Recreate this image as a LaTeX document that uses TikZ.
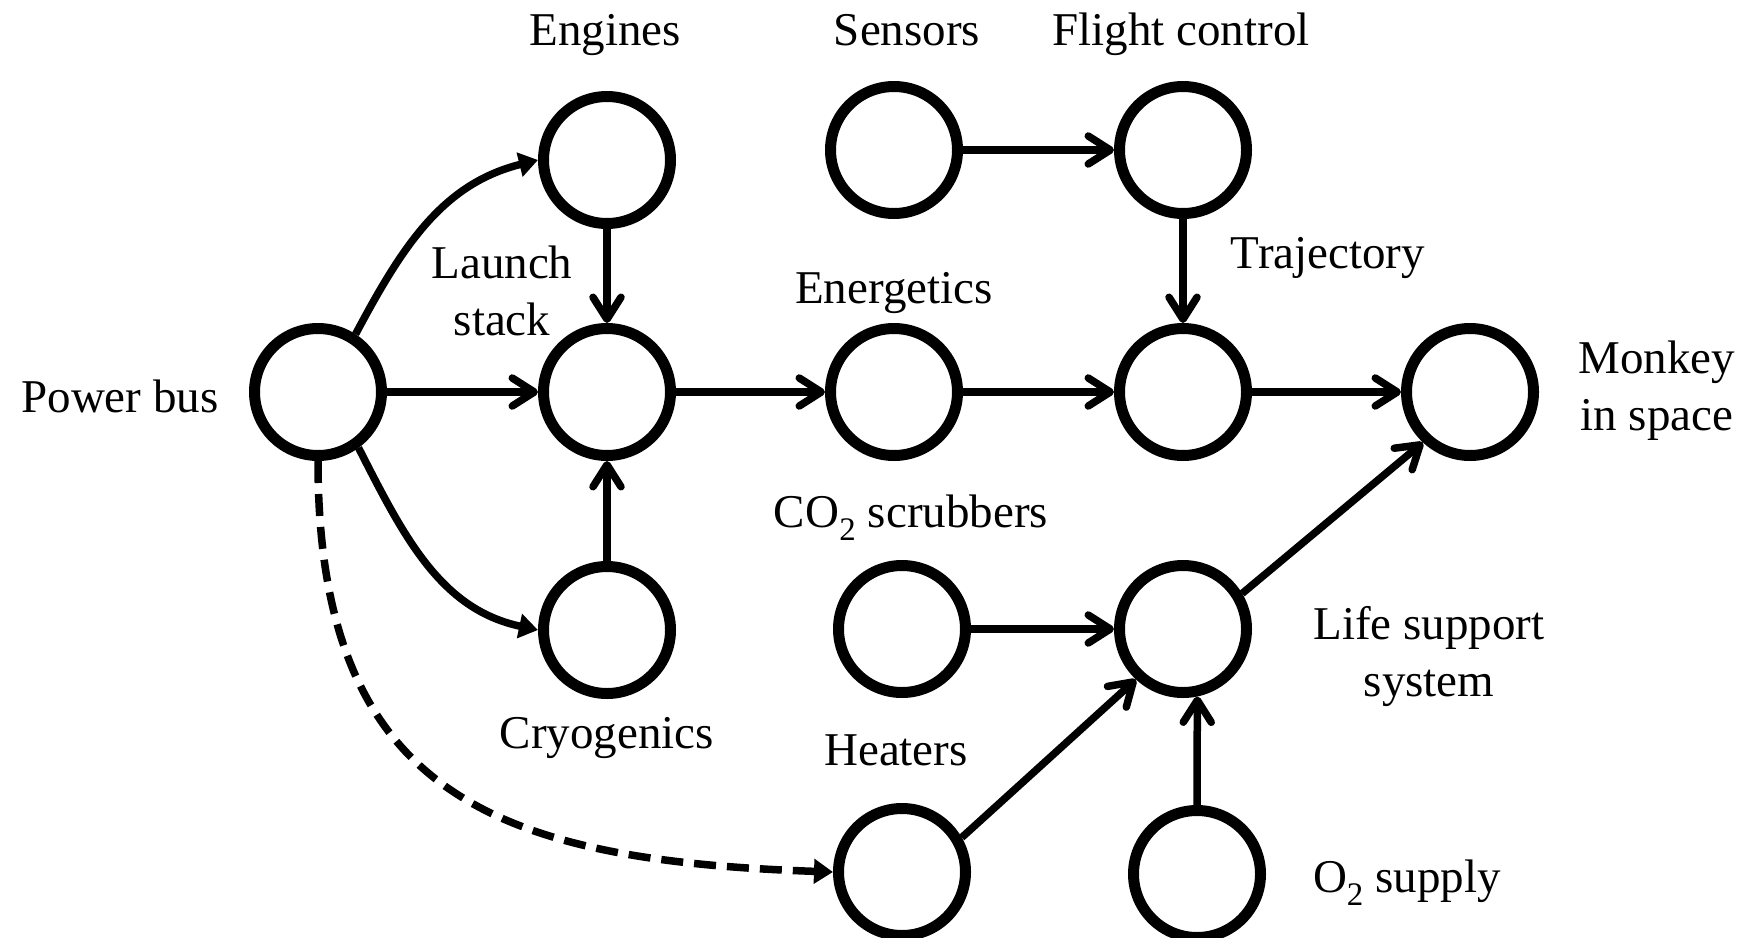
\documentclass[tikz,border=0pt]{standalone}
\usepackage{fontspec}
\setmainfont{Liberation Serif}
\usetikzlibrary{arrows.meta}

\begin{document}
\begin{tikzpicture}[x=1pt,y=-1pt,every node/.style={font=\fontsize{47}{57}\selectfont},
    subsys/.style={shape=circle,draw,line width=11pt,minimum size=127pt,inner sep=0pt},
    tag/.style={inner sep=0pt,align=center},
    link/.style={line width=7.5pt,-{Straight Barb[length=22pt,width=28pt,round]}},
    feed/.style={line width=7.5pt,-{Triangle[length=19pt,width=24pt]}}]
    \useasboundingbox (0,0) rectangle (1745,937);
    % subsystems
    \node[subsys] (pb) at (318,392) {};
    \node[subsys] (eng) at (607,160) {};
    \node[subsys] (ls) at (607,392) {};
    \node[subsys] (cryo) at (607,630) {};
    \node[subsys] (sens) at (894,150) {};
    \node[subsys] (fc) at (1183,150) {};
    \node[subsys] (energ) at (894,392) {};
    \node[subsys] (traj) at (1183,392) {};
    \node[subsys] (monkey) at (1470,392) {};
    \node[subsys] (co) at (902,629) {};
    \node[subsys] (lss) at (1183,629) {};
    \node[subsys] (heat) at (902,872) {};
    \node[subsys] (oxy) at (1197,874) {};
    % names
    \node[tag,anchor=base] (pbtxt) at (120,412) {Power bus};
    \node[tag,anchor=base] (engtxt) at (605,45) {Engines};
    \node[tag] (lstxt) at (502,291) {Launch\\stack};
    \node[tag,anchor=base] (cryotxt) at (607,748) {Cryogenics};
    \node[tag,anchor=base] (senstxt) at (907,45) {Sensors};
    \node[tag,anchor=base] (fctxt) at (1181,45) {Flight control};
    \node[tag,anchor=base] (energtxt) at (894,303) {Energetics};
    \node[tag,anchor=base] (trajtxt) at (1328,268) {Trajectory};
    \node[tag] (monkeytxt) at (1657,391) {Monkey\\in space};
    \node[tag,anchor=base] (cotxt) at (911,527) {CO\textsubscript{2} scrubbers};
    \node[tag] (lsstxt) at (1429,657) {Life support\\system};
    \node[tag,anchor=base] (heattxt) at (896,765) {Heaters};
    \node[tag,anchor=base] (oxytxt) at (1407,892) {O\textsubscript{2} supply};
    % power feeds
    \draw[feed] (pb.57) to[out=62,in=194] (eng.west);
    \draw[link] (pb) -- (ls);
    \draw[feed] (pb.-54) to[out=-63,in=168] (cryo.west);
    \draw[feed,dash pattern=on 22pt off 11pt] (pb.south) to[out=-90,in=178,looseness=1.3] (heat.west);
    % dependencies
    \draw[link] (eng) -- (ls);
    \draw[link] (cryo) -- (ls);
    \draw[link] (ls) -- (energ);
    \draw[link] (energ) -- (traj);
    \draw[link] (sens) -- (fc);
    \draw[link] (fc) -- (traj);
    \draw[link] (traj) -- (monkey);
    \draw[link] (co) -- (lss);
    \draw[link] (heat.30) -- (lss.-133);
    \draw[link] (oxy.north) -- (lss.-78);
    \draw[link] (lss.31) -- (monkey.-133);
\end{tikzpicture}
\end{document}
